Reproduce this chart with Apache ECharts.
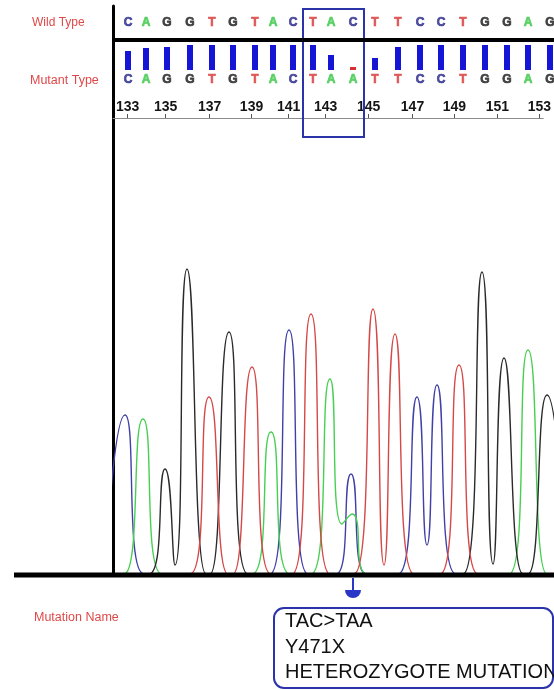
<!DOCTYPE html>
<html>
<head>
<meta charset="utf-8">
<script src="https://cdn.jsdelivr.net/npm/echarts@6/dist/echarts.min.js"></script>
<style>
  html, body { margin: 0; padding: 0; background: #fff; }
  #main { width: 554px; height: 690px; }
</style>
</head>
<body>
<div id="main"></div>
<script>
// sequence data
var wildSeq = ['C','A','G','G','T','G','T','A','C','T','A','C','T','T','C','C','T','G','G','A','G'];
var mutSeq  = ['C','A','G','G','T','G','T','A','C','T','A','A','T','T','C','C','T','G','G','A','G'];
var baseNum = [133,134,135,136,137,138,139,140,141,142,143,144,145,146,147,148,149,150,151,152,153];
// base call location (scan units)
var basePos = [15,33,54,77,99,120,142,160,180,200,218,240,262,285,307,328,350,372,394,415,437];
var tickNums = [133,135,137,139,141,143,145,147,149,151,153];
// quality bars of mutant read
var qualBars = [19,22,23,25,25,25,25,25,25,25,15,3,12,23,25,25,25,25,25,25,25];
// codon shown in the box (base indices)
var codon = [9, 11];
var annotLines = ['TAC>TAA', 'Y471X', 'HETEROZYGOTE MUTATION'];

// chromatogram traces [scan, signal]
var traceC = [[-8,0],[12,159],[31,0],[157,0],[176,244],[195,0],[223,0],[238,100],[253,0],[285,0],[304,177],[314,29],[324,189],[343,0],[441,0]];
var traceA = [[0,0],[11,0],[30,155],[49,0],[139,0],[158,142],[177,0],[198,0],[217,195],[229,50],[239,60],[254,0],[396,0],[415,224],[434,0],[441,0]];
var traceG = [[0,0],[36,0],[52,105],[62,9],[74,305],[93,0],[97,0],[116,242],[135,0],[350,0],[369,302],[380,10],[391,216],[410,0],[415,0],[434,179],[453,0]];
var traceT = [[0,0],[77,0],[96,177],[115,0],[120,0],[139,207],[158,0],[179,0],[198,260],[217,0],[241,0],[260,265],[271,9],[282,240],[301,0],[327,0],[346,209],[365,0],[441,0]];

var letterColor = { A: '#3cc84a', C: '#2a2a8c', G: '#1c1c1c', T: '#d93b3b' };
var traceColor = { A: '#46d052', C: '#4040a8', G: '#2a2a2a', T: '#d54848' };
var barBlue = '#1515d6', barRed = '#d83030', boxBlue = '#2b33a8';
var WILD_ROW = 15, MUT_ROW = 72;
var FONT = "'Liberation Sans', Arial, sans-serif";

var mutIdx = wildSeq.findIndex(function (b, i) { return b !== mutSeq[i]; });
var boxL = (basePos[codon[0] - 1] + basePos[codon[0]]) / 2;
var boxR = (basePos[codon[1]] + basePos[codon[1] + 1]) / 2;
var tickPos = tickNums.map(function (n) { return basePos[baseNum.indexOf(n)]; });

function letterData(seq, row) {
    return basePos.map(function (x, i) {
        var c = letterColor[seq[i]];
        return {
            value: [x, row],
            label: {
                color: c, fontWeight: 'bold', fontSize: 12, fontFamily: FONT,
                textBorderColor: c, textBorderWidth: 0.7
            }
        };
    });
}

function traceSeries(name, data) {
    return {
        name: name, type: 'line', xAxisIndex: 3, yAxisIndex: 3, smooth: 0.6, showSymbol: false,
        lineStyle: { color: traceColor[name], width: 1.4 }, data: data
    };
}

var chart = echarts.init(document.getElementById('main'));

var xHidden = { type: 'value', min: 0, max: 441, show: false };

chart.setOption({
    backgroundColor: '#fff',
    animation: false,
    grid: [
        { left: 113, right: 0, top: 8, height: 130 },   // sequence rows
        { left: 113, right: 0, top: 42, height: 28 },   // quality bars
        { left: 113, right: 0, top: 8, height: 110 },   // position ticks
        { left: 113, right: 0, top: 6, height: 568 }    // traces
    ],
    xAxis: [
        Object.assign({ gridIndex: 0 }, xHidden),
        Object.assign({ gridIndex: 1 }, xHidden),
        {
            gridIndex: 2, type: 'value', min: 0, max: 441, position: 'bottom',
            axisLine: { show: true, lineStyle: { color: '#8a8a8a', width: 1 } },
            axisTick: { show: true, inside: true, length: 4, customValues: tickPos, lineStyle: { color: '#555' } },
            axisLabel: {
                show: true, inside: true, margin: 4, customValues: tickPos,
                fontFamily: FONT, fontWeight: 'bold', fontSize: 14, color: '#151515',
                formatter: function (v) { return baseNum[basePos.indexOf(v)]; }
            },
            splitLine: { show: false }
        },
        Object.assign({ gridIndex: 3 }, xHidden)
    ],
    yAxis: [
        { gridIndex: 0, type: 'value', min: 0, max: 130, inverse: true, show: false },
        { gridIndex: 1, type: 'value', min: 0, max: 28, show: false },
        { gridIndex: 2, type: 'value', show: false },
        {
            gridIndex: 3, type: 'value', min: 0, max: 568,
            axisLine: { show: true, lineStyle: { color: '#000', width: 3 } },
            axisTick: { show: false }, axisLabel: { show: false }, splitLine: { show: false }
        }
    ],
    series: [
        {
            name: 'Wild', type: 'scatter', xAxisIndex: 0, yAxisIndex: 0,
            symbolSize: 1, itemStyle: { color: 'rgba(0,0,0,0)' },
            label: {
                show: true, position: 'inside',
                formatter: function (p) { return wildSeq[p.dataIndex]; }
            },
            data: letterData(wildSeq, WILD_ROW),
            markArea: {
                silent: true,
                itemStyle: { color: 'rgba(0,0,0,0)', borderColor: boxBlue, borderWidth: 2 },
                data: [[{ xAxis: boxL, yAxis: 1 }, { xAxis: boxR, yAxis: 129 }]]
            },
            markLine: {
                silent: true, symbol: ['none', 'none'],
                lineStyle: { color: '#000', width: 4, type: 'solid' },
                label: { show: false },
                data: [{ yAxis: 32 }]
            }
        },
        {
            name: 'Mutant', type: 'scatter', xAxisIndex: 0, yAxisIndex: 0,
            symbolSize: 1, itemStyle: { color: 'rgba(0,0,0,0)' },
            label: {
                show: true, position: 'inside',
                formatter: function (p) { return mutSeq[p.dataIndex]; }
            },
            data: letterData(mutSeq, MUT_ROW)
        },
        {
            name: 'Quality', type: 'bar', xAxisIndex: 1, yAxisIndex: 1, barWidth: 6,
            data: basePos.map(function (x, i) {
                return { value: [x, qualBars[i]], itemStyle: { color: i === mutIdx ? barRed : barBlue } };
            })
        },
        traceSeries('C', traceC),
        traceSeries('A', traceA),
        traceSeries('G', traceG),
        traceSeries('T', traceT)
    ]
});

// annotation under the mutated base
var ax = chart.convertToPixel({ xAxisIndex: 3 }, basePos[mutIdx]);
chart.setOption({
    graphic: [
        { type: 'text', style: { text: 'Wild Type', x: 32, y: 23, verticalAlign: 'middle', fill: '#e04848', font: '12px ' + FONT } },
        { type: 'text', style: { text: 'Mutant Type', x: 30, y: 81, verticalAlign: 'middle', fill: '#e04848', font: '12.5px ' + FONT } },
        { type: 'text', style: { text: 'Mutation Name', x: 34, y: 618, verticalAlign: 'middle', fill: '#e04848', font: '12.5px ' + FONT } },
        { type: 'line', z: 100, shape: { x1: 14, y1: 575, x2: 554, y2: 575 }, style: { stroke: '#000', lineWidth: 5 } },
        { type: 'line', z: 100, shape: { x1: ax, y1: 578, x2: ax, y2: 590 }, style: { stroke: '#2a36c8', lineWidth: 2 } },
        { type: 'sector', z: 100, shape: { cx: ax, cy: 590, r: 8, startAngle: 0, endAngle: Math.PI, clockwise: true }, style: { fill: '#2a36c8' } },
        { type: 'rect', shape: { x: 274, y: 608, width: 279, height: 80, r: 10 }, style: { fill: 'none', stroke: boxBlue, lineWidth: 2 } },
        { type: 'text', style: { text: annotLines.join('\n'), x: 285, y: 609, verticalAlign: 'top', lineHeight: 25.5, fill: '#111', font: '20px ' + FONT } }
    ]
});
</script>
</body>
</html>
